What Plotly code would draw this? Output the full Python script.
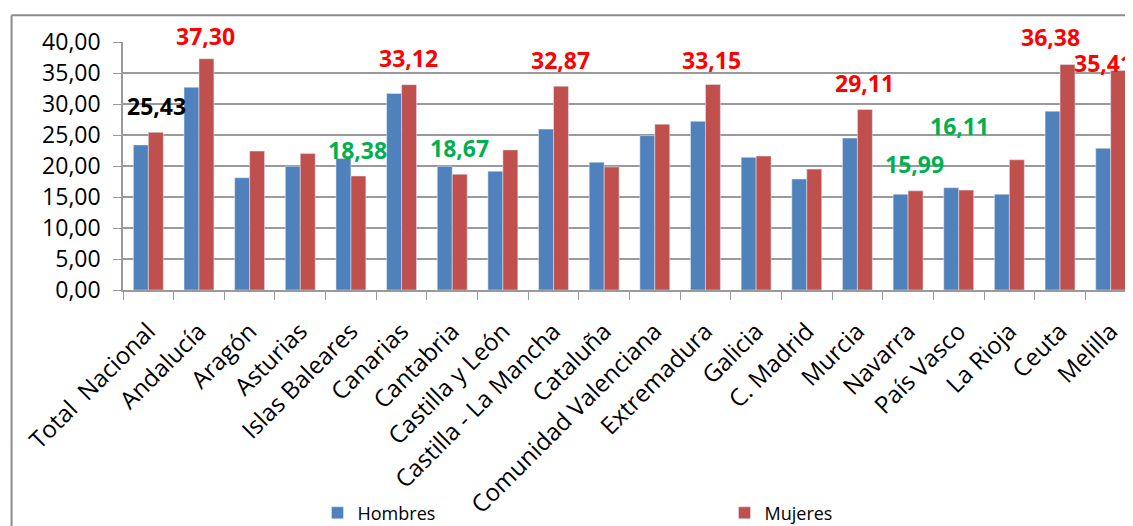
import plotly.graph_objects as go

BLUE = "#4F81BD"
RED = "#C0504D"
GRID = "#9A9A9A"
FONT = "Open Sans"

categories = [
    "Total  Nacional", "Andalucía", "Aragón", "Asturias", "Islas Baleares",
    "Canarias", "Cantabria", "Castilla y León", "Castilla - La Mancha", "Cataluña",
    "Comunidad Valenciana", "Extremadura", "Galicia", "C. Madrid", "Murcia",
    "Navarra", "País Vasco", "La Rioja", "Ceuta", "Melilla",
]
hombres = [23.4, 32.7, 18.1, 19.95, 21.2, 31.7, 19.95, 19.15, 25.95, 20.6,
           24.9, 27.2, 21.4, 17.9, 24.5, 15.45, 16.5, 15.45, 28.85, 22.85]
mujeres = [25.43, 37.30, 22.4, 22.0, 18.38, 33.12, 18.67, 22.6, 32.87, 19.85,
           26.75, 33.15, 21.6, 19.5, 29.11, 15.99, 16.11, 21.0, 36.38, 35.41]

# highlighted values (Mujeres) and their colour
label_cats = ["Total  Nacional", "Andalucía", "Islas Baleares", "Canarias", "Cantabria",
              "Castilla - La Mancha", "Extremadura", "Murcia", "Navarra", "País Vasco",
              "Ceuta", "Melilla"]
label_colors = ["#000000", "#FF0000", "#00B050", "#FF0000", "#00B050",
                "#FF0000", "#FF0000", "#FF0000", "#00B050", "#00B050",
                "#FF0000", "#FF0000"]

# label placement (height on the y scale, pixel x shift)
label_pos = {
    "Total  Nacional": (29.7, 8), "Andalucía": (40.9, 7), "Islas Baleares": (22.55, 7),
    "Canarias": (37.4, 7), "Cantabria": (22.95, 7), "Castilla - La Mancha": (37.1, 7),
    "Extremadura": (37.1, 6), "Murcia": (33.4, 7), "Navarra": (20.4, 6),
    "País Vasco": (26.5, 1), "Ceuta": (40.8, -10), "Melilla": (36.6, -7),
}

# page has an 8px body margin -> layout is shifted by that much
L, R, T, B = 115, 5, 34, 243
W, H = 1133, 526
plot_h = H - T - B
px_per_unit = plot_h / 40

fig = go.Figure()
fig.add_trace(go.Bar(x=categories, y=hombres, name="Hombres", marker_color=BLUE))
fig.add_trace(go.Bar(x=categories, y=mujeres, name="Mujeres", marker_color=RED))

for cat, col in zip(label_cats, label_colors):
    val = mujeres[categories.index(cat)]
    y, dx = label_pos[cat]
    y_in = min(y, 40)
    fig.add_annotation(
        x=cat, y=y_in, xshift=dx, yshift=(y - y_in) * px_per_unit,
        text=f"<b>{val:.2f}</b>".replace(".", ","),
        showarrow=False, font=dict(color=col, size=23, family=FONT),
        xanchor="center", yanchor="middle",
    )

# outer chart frame
fig.add_shape(type="line", xref="paper", yref="paper",
              x0=-0.110, x1=1.2, y0=1.108, y1=1.108,
              line=dict(color="#8C8C8C", width=2))
fig.add_shape(type="line", xref="paper", yref="paper",
              x0=-0.110, x1=-0.110, y0=1.108, y1=-1.2,
              line=dict(color="#8C8C8C", width=2))

fig.update_layout(
    width=W, height=H,
    margin=dict(l=L, r=R, t=T, b=B),
    plot_bgcolor="white", paper_bgcolor="white",
    font=dict(family=FONT, color="#000000"),
    barmode="group", bargap=0.41, bargroupgap=0,
    separators=",.",
    showlegend=True,
    legend=dict(
        orientation="h", x=0.192, y=-0.892, xanchor="left", yanchor="middle",
        entrywidth=362, entrywidthmode="pixels", bgcolor="rgba(0,0,0,0)",
        font=dict(size=18, family=FONT), itemwidth=30,
    ),
)
fig.update_xaxes(
    range=[-0.5, 19.5], tickangle=-45, tickfont=dict(size=24, family=FONT),
    showline=True, linecolor=GRID, linewidth=1.5,
    ticks="outside", tickson="boundaries", ticklen=8, tickcolor=GRID,
    ticklabelstandoff=16, showgrid=False,
)
fig.update_yaxes(
    range=[0, 40], dtick=5, tickformat=".2f",
    tickfont=dict(size=23, family=FONT),
    showgrid=True, gridcolor=GRID, gridwidth=1.5,
    showline=True, linecolor=GRID, linewidth=1.5,
    ticks="outside", ticklen=8, tickcolor=GRID, ticklabelstandoff=8,
    zeroline=False,
)

fig.write_html("out.html")
